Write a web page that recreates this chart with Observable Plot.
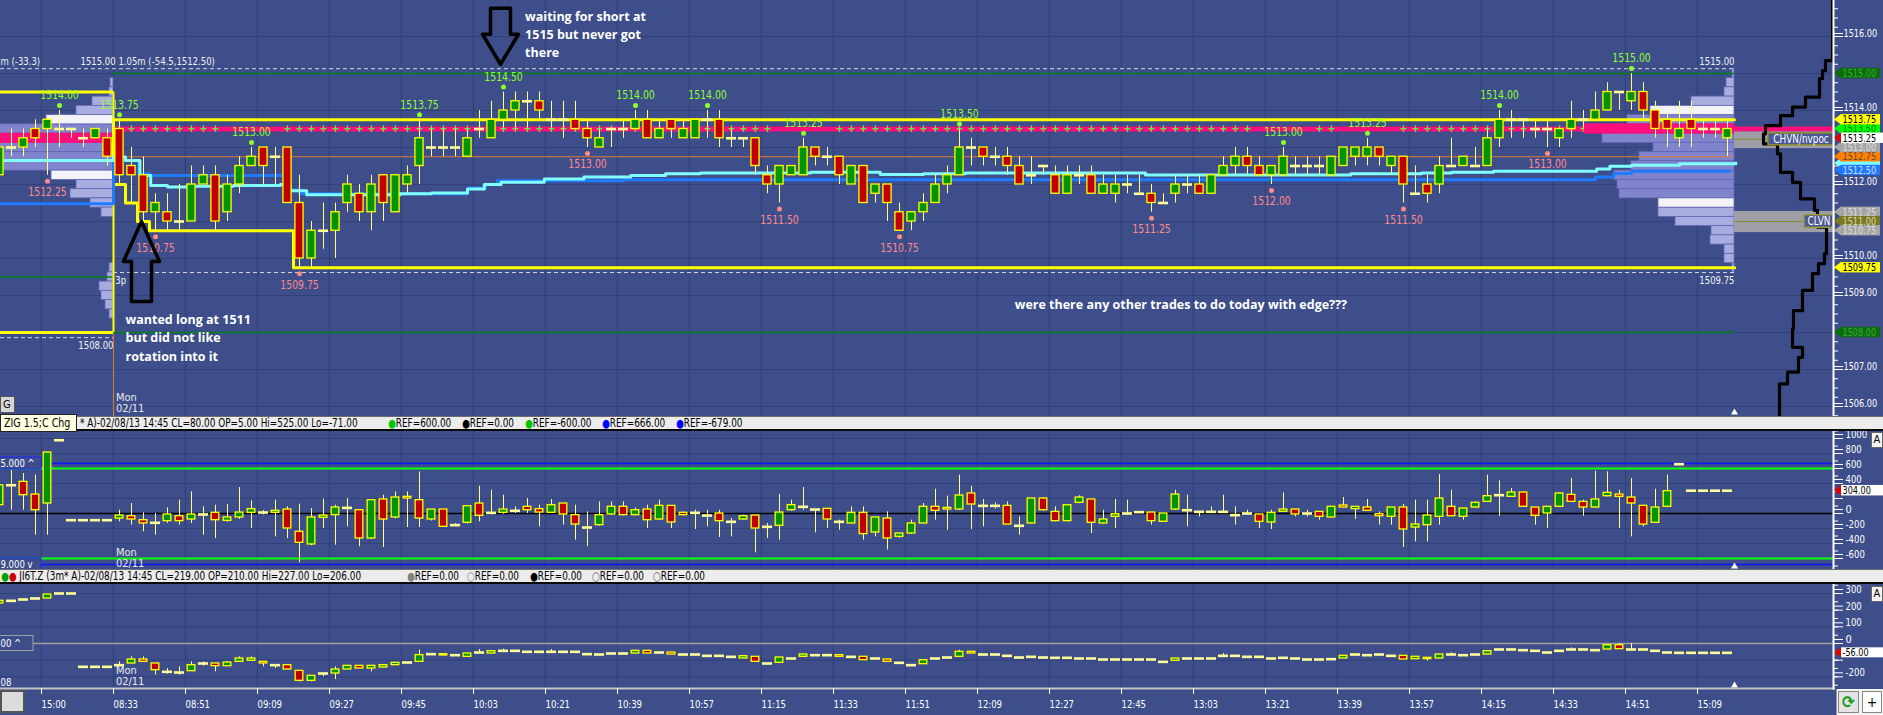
<!DOCTYPE html>
<html>
<head>
<meta charset="utf-8">
<title>ES 3m chart 02/11/13</title>
<script src="https://cdn.jsdelivr.net/npm/d3@7"></script>
<script src="https://cdn.jsdelivr.net/npm/@observablehq/plot@0.6"></script>
<style>
html,body{margin:0;padding:0}
body{width:1883px;height:715px;overflow:hidden;position:relative;background:#3e4e8a;font-family:"Liberation Sans Narrow","DejaVu Sans Condensed","Liberation Sans",sans-serif}
.pane{position:absolute;left:0}
.pane svg{display:block}
.strip{position:absolute;left:0;width:1883px;box-sizing:border-box;background:#ececec;border-top:1px solid #6d6d6d;border-bottom:2px solid #0a0a0a;font-size:11.5px;color:#000;white-space:nowrap}
.strip span{position:absolute;top:0;line-height:12px;transform:scaleX(.86);transform-origin:0 0}
.box{position:absolute;box-sizing:border-box;font-size:12px;white-space:nowrap;overflow:hidden}
</style>
</head>
<body>
<div id="main" class="pane" style="top:0"></div>
<div id="mid" class="pane" style="top:430px"></div>
<div id="bot" class="pane" style="top:584px"></div>

<div class="strip" style="top:416px;height:15px">
 <span style="left:80px">* A)-02/08/13 14:45 CL=80.00 OP=5.00 Hi=525.00 Lo=-71.00</span>
 <span style="left:388px"><b style="color:#00c800">&#9679;</b>REF=600.00</span>
 <span style="left:462px"><b style="color:#000">&#9679;</b>REF=0.00</span>
 <span style="left:525px"><b style="color:#00c800">&#9679;</b>REF=-600.00</span>
 <span style="left:602px"><b style="color:#0000ff">&#9679;</b>REF=666.00</span>
 <span style="left:676px"><b style="color:#0000ff">&#9679;</b>REF=-679.00</span>
</div>
<div class="box" style="left:0;top:414px;width:77px;height:18px;background:#ffffe1;border:1px solid #222;padding-left:3px;line-height:16px"><span style="display:inline-block;transform:scaleX(.88);transform-origin:0 0">ZIG 1.5;C Chg</span></div>

<div class="strip" style="top:569px;height:15px">
 <span style="left:1px"><b style="color:#00a000">&#9679;</b><b style="color:#d00000">&#9679;</b> JI6T.Z (3m* A)-02/08/13 14:45 CL=219.00 OP=210.00 Hi=227.00 Lo=206.00</span>
 <span style="left:407px"><b style="color:#808080">&#9679;</b>REF=0.00</span>
 <span style="left:467px"><b style="color:#808080">&#9675;</b>REF=0.00</span>
 <span style="left:530px"><b style="color:#000">&#9679;</b>REF=0.00</span>
 <span style="left:592px"><b style="color:#555">&#9675;</b>REF=0.00</span>
 <span style="left:653px"><b style="color:#555">&#9675;</b>REF=0.00</span>
</div>

<div class="box" style="left:0;top:396px;width:15px;height:17px;background:#d6d6d6;border:1px solid #555;font-size:11px;line-height:15px;padding-left:2px">G</div>
<div class="box" style="left:0;top:690px;width:25px;height:23px;background:#dcdcdc;border:2px solid #555"></div>
<div class="box" style="left:1836px;top:689px;width:47px;height:26px;background:#f4f4f4;border-left:1px solid #999"></div>
<div class="box" style="left:1838px;top:691px;width:21px;height:22px;background:#e4e4e4;border:1px solid #888;color:#1a9a1a;font-size:17px;line-height:20px;text-align:center;font-weight:bold">&#10227;</div>
<div class="box" style="left:1862px;top:691px;width:20px;height:22px;background:#fff;border:1px solid #888;font-size:14px;line-height:20px;text-align:center">+</div>
<div class="box" style="left:1871px;top:432px;width:12px;height:16px;background:#f4f4f4;border:1px solid #666;font-size:11px;line-height:14px;text-align:center">A</div>
<div class="box" style="left:1871px;top:586px;width:12px;height:16px;background:#f4f4f4;border:1px solid #666;font-size:11px;line-height:14px;text-align:center">A</div>

<script>
// ===================== DATA =====================
// time axis (bar index: 0 = 08:30 bar on Mon 02/11, negatives = Fri 02/08)
const tickBars = d3.range(-6.5, 132, 6);
const tickLabels = ["15:00","08:33","08:51","09:09","09:27","09:45","10:03","10:21","10:39","10:57","11:15","11:33","11:51","12:09","12:27","12:45","13:03","13:21","13:39","13:57","14:15","14:33","14:51","15:09"];

// value-axis labels (labels hidden behind a price tag are left out, as in the original)
const priceAxisLabels = [1506, 1507, 1509, 1510, 1512, 1514, 1516];
const midAxisLabels = [-600, -400, -200, 0, 400, 600, 800, 1000];
const botAxisLabels = [-200, 0, 100, 200, 300];

// ---- ES price candles, previous session tail (bars -10..-1)
const prevOpen  = [1512.25,1513.0,1513.0,1513.5,1513.5,1513.5,1513.5,1513.25,1513.25,1513.25];
const prevHigh  = [1513.0,1513.5,1513.5,1513.75,1513.75,1514.0,1513.5,1513.5,1513.5,1513.5];
const prevLow   = [1512.25,1512.75,1512.75,1513.0,1512.25,1513.0,1513.25,1513.0,1513.25,1512.5];
const prevClose = [1513.0,1513.0,1513.25,1513.25,1513.75,1513.5,1513.5,1513.25,1513.5,1512.75];

// ---- ES price candles, Mon 02/11 session (bars 0..134)
const sessionOpen = [
1513.5,1512.5,1512.25,1511.25,1511.25,1511.0,1511.0,1512.0,1512.25,1511.25,
1512.0,1512.5,1513.0,1512.75,1513.0,1511.5,1510.0,1510.75,1510.75,1511.5,
1511.75,1511.25,1512.25,1511.25,1512.0,1512.5,1513.0,1513.0,1513.0,1512.75,
1513.5,1513.25,1513.75,1514.0,1514.25,1514.25,1513.75,1513.75,1513.75,1513.5,
1513.0,1513.5,1513.5,1513.5,1513.75,1513.25,1513.75,1513.25,1513.25,1513.75,
1513.75,1513.25,1513.25,1513.25,1512.25,1512.0,1512.25,1512.25,1513.0,1512.75,
1512.75,1512.0,1512.5,1511.75,1512.0,1511.25,1511.0,1511.25,1511.5,1512.0,
1512.25,1513.0,1513.0,1512.75,1512.75,1512.5,1512.25,1512.5,1512.25,1511.75,
1512.25,1512.25,1511.75,1511.75,1512.0,1511.75,1511.75,1511.5,1511.75,1512.0,
1512.0,1511.75,1512.25,1512.5,1512.75,1512.5,1512.25,1512.25,1512.5,1512.5,
1512.5,1512.25,1512.5,1512.75,1512.75,1513.0,1512.5,1512.75,1511.75,1512.0,
1512.0,1512.5,1512.5,1512.5,1512.5,1513.25,1513.75,1513.75,1513.5,1513.5,
1513.25,1513.5,1513.75,1513.75,1514.0,1514.5,1514.25,1514.5,1514.0,1513.75,
1513.25,1513.75,1513.5,1513.5,1513.25];
const sessionHigh = [
1513.75,1513.0,1512.75,1511.75,1511.75,1512.0,1512.5,1512.5,1512.5,1512.25,
1512.75,1513.0,1513.0,1513.0,1513.0,1512.25,1511.0,1511.5,1511.5,1512.25,
1512.0,1512.25,1512.25,1512.25,1512.5,1513.75,1513.5,1513.5,1513.5,1513.5,
1514.0,1514.25,1514.5,1514.5,1514.5,1514.5,1514.25,1514.25,1514.25,1513.75,
1513.5,1513.5,1513.75,1514.0,1514.0,1513.75,1513.75,1513.75,1513.75,1514.0,
1514.0,1513.5,1513.25,1513.25,1512.5,1512.5,1512.5,1513.25,1513.0,1513.0,
1512.75,1512.5,1512.5,1512.0,1512.0,1511.5,1511.25,1511.75,1512.25,1512.5,
1513.5,1513.25,1513.0,1513.0,1513.0,1512.75,1512.75,1512.5,1512.5,1512.5,
1512.5,1512.5,1512.25,1512.25,1512.25,1512.25,1512.0,1511.75,1512.25,1512.25,
1512.25,1512.25,1512.75,1513.0,1513.0,1512.75,1512.5,1513.0,1512.75,1512.75,
1512.75,1512.75,1513.0,1513.0,1513.25,1513.0,1512.75,1512.75,1512.5,1512.25,
1512.75,1513.25,1512.75,1513.0,1513.5,1514.0,1514.0,1513.75,1513.75,1513.75,
1513.5,1514.25,1514.0,1514.5,1514.75,1514.5,1515.0,1514.75,1514.25,1514.0,
1514.25,1514.25,1513.75,1513.75,1513.75];
const sessionLow = [
1512.0,1511.5,1511.0,1510.75,1510.75,1510.75,1511.0,1512.0,1510.75,1511.0,
1511.75,1512.5,1512.0,1512.0,1511.5,1509.75,1509.75,1510.25,1510.0,1511.25,
1511.0,1510.75,1511.0,1511.25,1511.75,1512.0,1512.75,1512.75,1512.75,1512.75,
1513.25,1513.25,1513.5,1513.5,1513.5,1513.75,1513.5,1513.25,1513.5,1513.0,
1513.0,1513.0,1513.25,1513.5,1513.25,1513.25,1513.25,1513.25,1513.25,1513.25,
1513.0,1513.0,1513.0,1512.25,1511.75,1511.5,1512.25,1512.25,1512.5,1512.5,
1512.0,1512.0,1511.5,1511.5,1511.0,1510.75,1510.75,1511.0,1511.5,1511.75,
1512.25,1512.5,1512.5,1512.5,1512.25,1512.0,1512.0,1512.25,1511.75,1511.75,
1512.0,1511.75,1511.75,1511.5,1511.75,1511.75,1511.25,1511.5,1511.5,1511.75,
1511.75,1511.75,1512.25,1512.25,1512.25,1512.25,1512.0,1512.25,1512.25,1512.25,
1512.25,1512.25,1512.5,1512.5,1512.5,1512.5,1512.25,1511.5,1511.75,1511.5,
1511.75,1512.5,1512.5,1512.5,1512.5,1513.0,1513.25,1513.25,1513.25,1513.0,
1513.0,1513.25,1513.5,1513.75,1514.0,1514.0,1514.0,1513.75,1513.25,1513.0,
1513.0,1513.0,1513.25,1513.25,1512.75];
const sessionClose = [
1512.25,1512.25,1511.25,1511.5,1511.0,1511.0,1512.0,1512.25,1511.0,1512.0,
1512.5,1512.75,1512.5,1512.75,1511.5,1510.0,1510.75,1510.75,1511.25,1512.0,
1511.25,1512.0,1511.5,1512.25,1512.25,1513.25,1513.0,1513.0,1513.0,1513.25,
1513.5,1513.75,1514.0,1514.25,1514.25,1514.0,1513.75,1513.75,1513.5,1513.25,
1513.25,1513.5,1513.5,1513.75,1513.25,1513.5,1513.5,1513.5,1513.75,1513.75,
1513.25,1513.25,1513.25,1512.5,1512.0,1512.5,1512.5,1513.0,1512.75,1512.75,
1512.25,1512.5,1511.5,1512.0,1511.5,1510.75,1511.25,1511.5,1512.0,1512.25,
1513.0,1513.0,1512.75,1512.75,1512.5,1512.0,1512.25,1512.5,1511.75,1512.25,
1512.25,1511.75,1512.0,1512.0,1512.0,1511.75,1511.5,1511.5,1512.0,1512.0,
1511.75,1512.25,1512.5,1512.75,1512.5,1512.25,1512.5,1512.75,1512.5,1512.5,
1512.5,1512.75,1513.0,1513.0,1513.0,1512.75,1512.75,1512.0,1511.75,1511.75,
1512.5,1512.5,1512.75,1512.5,1513.25,1513.75,1513.75,1513.75,1513.5,1513.5,
1513.5,1513.75,1513.75,1514.0,1514.5,1514.5,1514.5,1514.0,1513.5,1513.5,
1513.5,1513.5,1513.5,1513.5,1513.5];

// swing high / low labels
const swingHighBar   = [-5,0,11,25,32,43,49,57,70,97,104,115,126];
const swingHighPrice = [1514.0,1513.75,1513.0,1513.75,1514.5,1514.0,1514.0,1513.25,1513.5,1513.0,1513.25,1514.0,1515.0];
const swingLowBar    = [-6,3,15,39,55,65,86,96,107,119];
const swingLowPrice  = [1512.25,1510.75,1509.75,1513.0,1511.5,1510.75,1511.25,1512.0,1511.5,1513.0];

// key levels
const pocPrice = 1513.5, prevPocPrice = 1513.25;
const ibHigh = 1513.75;
const ibLowStepBar   = [-0.5,0.5,1.5,2.5,14.5,134.6];
const ibLowStepPrice = [1512.0,1511.5,1511.0,1510.75,1509.75,1509.75];
const prevIbHigh = 1514.5, prevIbLow = 1508.0;
const orangeLevel = 1512.75;
const greenLevels = [1515.0, 1508.0];
const prevGreenLevel = 1509.5;
const sessionHighDash = 1515.13, sessionLowDash = 1509.62, prevLowDash = 1507.86;

// VWAP-type step lines
const cyanBar   = [-10,-0.5,0.5,1.7,2.6,4,5.6,9.5,13.4,14.2,15.6,23.4,26,29,30.4,31.8,35.4,38.7,42.6,45.5,48.4,57.6,63.4,67,70.5,85.5,102.6,108.5,111,114.5,123.1,124.2,126,130,134.7];
const cyanPrice = [1512.65,1512.74,1512.65,1512.24,1511.97,1511.93,1511.95,1511.97,1512.0,1511.83,1511.72,1511.75,1511.77,1511.88,1512.0,1512.06,1512.15,1512.2,1512.24,1512.29,1512.31,1512.33,1512.27,1512.29,1512.31,1512.26,1512.29,1512.31,1512.33,1512.36,1512.42,1512.49,1512.52,1512.56,1512.58];
const blueBar   = [-10,-0.5,1.6,2.5,14.0,15.0,29,30.5,31.5,42,123,124.5,126,134.2];
const bluePrice = [1511.48,1512.65,1512.29,1512.24,1511.85,1511.75,1511.9,1512.0,1512.1,1512.13,1512.2,1512.3,1512.36,1512.36];

// volume profiles
const profPrices = [1515.0,1514.75,1514.5,1514.25,1514.0,1513.75,1513.5,1513.25,1513.0,1512.75,1512.5,1512.25,1512.0,1511.75,1511.5,1511.25,1511.0,1510.75,1510.5,1510.25,1510.0,1509.75];
const profVolume = [2,8,10,43,84,107,150,132,81,95,103,120,117,115,76,76,59,23,24,10,10,2];
const profVAH = 1514.0, profVAL = 1511.5;
const prevProfPrices = [1514.75,1514.5,1514.25,1514.0,1513.75,1513.5,1513.25,1513.0,1512.75,1512.5,1512.25,1512.0,1511.75,1511.5,1511.25,1509.75,1509.5,1509.25,1509.0,1508.75,1508.5];
const prevProfVolume = [3,4,21,37,67,130,130,130,130,130,62,37,43,23,12,4,6,14,12,8,4];
const prevVAH = 1513.75, prevVAL = 1512.25;

// composite profile (black step line at right), segment tops and depth
const compTop   = [1516.97,1515.35,1515.08,1514.86,1514.36,1514.09,1513.86,1513.59,1513.37,1513.1,1512.83,1512.33,1512.06,1511.61,1511.3,1510.85,1510.13,1509.86,1509.59,1509.14,1508.59,1508.1,1507.6,1507.33,1506.93,1506.61,1505.73];
const compDepth = [3,10,13,16,30,43,55,70,72,58,55,43,35,21,18,9,11,17,23,33,42,43,33,37,48,56];

// high/low volume nodes
const chvnBand = [1512.97, 1513.42], chvnMid = 1513.22;
const clvnBand = [1510.7, 1511.27], clvnMid = 1511.0;

// right-axis price tags
const tagPrice = [1513.5,1515.0,1508.0,1513.75,1512.57,1512.75,1513.0,1512.38,1513.25,1511.25,1511.0,1510.75,1509.75];
const tagText  = ["1513.50","1515.00","1508.00","1513.75","","1512.75","1513.00","1512.50","1513.25","1511.25","1511.00","1510.75","1509.75"];

// ---- ZIG / C Chg oscillator candles
const midPrevOpen  = [111,377,422,253,133,977,-89,-89,-89,-89];
const midPrevHigh  = [400,577,533,511,813,977,-89,-89,-89,-89];
const midPrevLow   = [100,44,44,-289,-289,977,-89,-89,-89,-89];
const midPrevClose = [377,377,244,44,813,977,-89,-89,-89,-89];
const midOpen = [
-67,-36,-89,-124,-102,-36,-80,-13,9,-98, -53,9,13,9,53,-244,-413,-58,-22,75,
44,-333,187,-53,222,178,-80,53,-155,-124, 133,9,9,36,89,58,9,133,-22,-187,
-155,-13,89,-22,53,-80,102,9,9,-27, 0,-111,-80,-27,-178,-164,44,89,53,62,
-111,-133,9,-253,-67,-311,-267,-133,89,75, 53,267,102,102,102,-164,-133,200,22,-102,
142,187,-133,-44,0,18,13,-111,53,44, 22,22,22,-22,0,-13,-120,22,53,0,
22,-53,107,58,80,-9,-44,80,-187,-155, -44,89,-44,80,155,244,222,280,80,0,
89,249,155,80,231,253,213,102,-124,89, 657,304,304,304,304];
const midHigh = [
44,133,9,0,75,178,289,89,111,120, 346,169,40,178,89,124,67,191,111,200,
44,178,244,289,289,555,53,53,-133,98, 364,311,244,89,200,111,187,133,111,22,
155,155,155,75,111,178,102,22,44,44, 44,-67,-22,-27,-133,253,178,346,53,62,
-89,89,89,-53,22,-267,-89,133,324,231, 511,364,187,140,155,-44,200,213,89,111,
236,187,44,187,178,22,13,0,311,244, 22,89,244,89,44,-13,44,275,53,44,
22,89,213,89,187,22,80,120,178,178, 520,311,67,155,511,436,333,289,80,89,
275,467,178,564,555,311,467,111,324,511, 657,304,304,304,304];
const midLow = [
-111,-155,-244,-289,-130,-155,-133,-289,-333,-120, -80,-200,-20,-311,-333,-657,-430,-200,-422,-178,
-444,-345,-453,-70,-187,-187,-100,-187,-170,-140, -111,-20,-10,0,0,-178,0,-155,-355,-444,
-170,-25,-30,-30,-200,-90,-200,-30,-213,-178, -320,-311,-90,-524,-333,-355,30,44,-258,-200,
-222,-140,-355,-311,-488,-333,-280,-140,-89,-222, 40,-213,-178,60,-147,-289,-140,30,-110,-110,
130,-267,-140,-200,-20,0,-155,-120,40,-178, -44,10,10,-155,-10,-200,-213,15,-44,-44,
-90,-60,75,-80,30,-155,-155,-453,-378,-378, -155,-40,-89,70,150,-36,215,89,-155,-200,
80,150,-36,70,220,-200,-311,-178,-130,80, 657,304,304,304,304];
const midClose = [
-27,-80,-133,-124,-13,-102,-13,-13,-89,-53, 13,58,13,36,-200,-391,-53,-27,80,75,
-333,178,-80,213,200,-67,53,-178,-155,98, -31,9,53,36,44,13,111,-13,-147,-187,
-22,89,-22,44,-89,102,-120,-22,9,-27, -102,-111,-36,-200,-178,13,111,89,53,-80,
-111,9,-275,-53,-333,-267,-133,89,36,53, 240,120,102,102,-147,-164,200,44,-102,111,
213,-124,-80,-9,0,18,-102,0,253,44, 22,22,22,-22,0,-111,9,53,-13,0,
-44,89,80,89,36,-36,80,-213,-147,-27, 200,-36,67,142,231,244,280,89,-31,89,
267,155,80,187,275,222,133,-147,80,298, 657,304,304,304,304];
const midRefs = {green: [600, -600], blue: [666, -679]};
const midLast = 304;

// ---- JI6T.Z candles
const botPrevOpen  = [240,256,264,270,270,300,300,-140,-140,-140];
const botPrevClose = [256,256,264,270,294,300,300,-140,-140,-140];
const botOpen = [
-130,-120,-96,-120,-170,-174,-166,-120,-120,-136, -110,-104,-110,-130,-130,-164,-224,-180,-180,-156,
-134,-150,-144,-130,-114,-110,-64,-64,-70,-80, -54,-60,-44,-44,-50,-50,-50,-50,-50,-64,
-66,-60,-60,-60,-44,-54,-54,-66,-66,-74, -74,-80,-90,-80,-120,-116,-90,-80,-70,-70,
-70,-80,-80,-90,-96,-116,-130,-124,-90,-84, -80,-50,-66,-66,-74,-84,-80,-84,-86,-86,
-90,-90,-96,-96,-96,-96,-96,-110,-104,-90, -90,-90,-74,-74,-80,-80,-90,-86,-90,-96,
-96,-94,-90,-66,-70,-66,-74,-74,-94,-86, -90,-66,-70,-66,-66,-36,-36,-40,-44,-54,
-44,-36,-36,-40,-36,-10,-36,-36,-44,-54, -56,-56,-56,-56,-56];
const botClose = [
-130,-96,-110,-160,-170,-174,-130,-120,-136,-114, -90,-90,-120,-130,-156,-224,-194,-180,-156,-134,
-150,-134,-130,-116,-114,-70,-64,-72,-70,-60, -54,-46,-44,-44,-50,-50,-50,-50,-50,-64,
-66,-60,-60,-44,-60,-54,-66,-66,-66,-74, -74,-80,-76,-110,-120,-84,-90,-66,-70,-70,
-80,-80,-100,-90,-110,-116,-130,-100,-90,-84, -50,-60,-66,-66,-74,-84,-80,-84,-86,-86,
-90,-90,-96,-96,-96,-96,-96,-110,-90,-90, -90,-90,-74,-74,-80,-80,-90,-86,-90,-96,
-96,-94,-74,-66,-70,-66,-74,-96,-80,-94, -66,-66,-70,-66,-46,-36,-36,-40,-44,-54,
-44,-36,-36,-40,-10,-34,-36,-36,-44,-54, -56,-56,-56,-56,-56];
const botWickHigh = {0:-110,1:-80,2:-80,4:-150,5:-140,6:-110,7:-110,9:-110,10:-80,11:-80,18:-140,25:-40,30:-36,32:-34,36:-36,70:-40,92:-60,111:-56,121:-26,125:0,126:0};
const botWickLow  = {3:-190,4:-184,5:-190,7:-136,8:-170,12:-140,13:-150,15:-230,16:-230,17:-200,18:-216,21:-170,109:-106};
const botLast = -56;

// annotations
const shortArrow = {bar: 31.75, price: 1515.25};
const longArrow  = {bar: 1.83, price: 1511.0};
const noteShort = {bar: 33.8, price: 1516.76, text: "waiting for short at\n1515 but never got\nthere"};
const noteLong  = {bar: 0.5, price: 1508.57, text: "wanted long at 1511\nbut did not like\nrotation into it"};
const noteEdge  = {bar: 74.6, price: 1508.73, text: "were there any other trades to do today with edge???"};

// ===================== DRAWING =====================
const FONT = '"Liberation Sans Narrow","DejaVu Sans Condensed","Liberation Sans",sans-serif';
const W = 1883;
const uOf = px => (px - 119) / 12;          // pixel column -> bar index (layout helper)
const COL = {grid:"#33417a", green:"#009400", red:"#c00000", edge:"#ffff00", wick:"#ffff88", doji:"#ffff99",
             hi:"#8cff2a", lo:"#ff8a8a", pink:"#ff0f7b", cyan:"#80ffff", blue:"#1e7bff"};
const xOpts = {type:"linear", domain:[uOf(0), uOf(1833)], axis:null};
const tickLabel = new Map(tickBars.map((b,i)=>[b, tickLabels[i]]));
const baseStyle = {background:"transparent", fontFamily:FONT, fontSize:"11px", color:"#fff", overflow:"visible"};

function candles(data, bodyW=0.34) {
  const up = data.filter(d => d.c > d.o), dn = data.filter(d => d.c < d.o), dj = data.filter(d => d.c === d.o);
  return [
    Plot.ruleX(data.filter(d => d.h > d.l), {x:"u", y1:"l", y2:"h", stroke:COL.wick, strokeWidth:1}),
    Plot.rect(up, {x1:d=>d.u-bodyW, x2:d=>d.u+bodyW, y1:"o", y2:"c", fill:COL.green, stroke:COL.edge, strokeWidth:1.3}),
    Plot.rect(dn, {x1:d=>d.u-bodyW, x2:d=>d.u+bodyW, y1:"o", y2:"c", fill:COL.red, stroke:COL.edge, strokeWidth:1.3}),
    Plot.ruleY(dj, {y:"c", x1:d=>d.u-0.42, x2:d=>d.u+0.42, stroke:COL.doji, strokeWidth:2.6})
  ];
}
// price tag on the right axis: pointed left end + box + label
function tag(t, half, bg, fg, wide=false) {
  const tri = [{y:t.y-half, a:uOf(1841)}, {y:t.y, a:uOf(1834)}, {y:t.y+half, a:uOf(1841)}];
  return [
    Plot.areaX(tri, {y:"y", x1:"a", x2:()=>uOf(1841), fill: wide ? "#e00000" : bg}),
    Plot.rect([t], {x1:()=>uOf(1841), x2:()=>uOf(wide?1883:1880), y1:d=>d.y-half, y2:d=>d.y+half, fill:bg}),
    Plot.text([t], {x:()=>uOf(1842), y:"y", text:"label", fill:fg, textAnchor:"start", fontSize:10.5})
  ];
}

// ---------- main price panel ----------
const prevBars = prevOpen.map((o,i)=>({u:-10+i, o, h:prevHigh[i], l:prevLow[i], c:prevClose[i]}));
const sesBars  = sessionOpen.map((o,i)=>({u:i, o, h:sessionHigh[i], l:sessionLow[i], c:sessionClose[i]}));
const yTop = 1516 + 36/37, yBot = 1516 - 380/37;
const rowH = 0.125;
const rightEdge = uOf(1734), leftEdge = uOf(113), profScale = 1/12, axisU = uOf(1835);
const kindOf = (p, poc, vah, val) => p===poc ? "poc" : (p===vah||p===val) ? "white" : (p<vah&&p>val) ? "in" : "out";
const profRows = profPrices.map((p,i)=>({p, v:profVolume[i], x2:rightEdge, kind:kindOf(p, pocPrice, profVAH, profVAL)}));
const prevRows = prevProfPrices.map((p,i)=>({p, v:prevProfVolume[i], x2:leftEdge, kind:kindOf(p, prevPocPrice, prevVAH, prevVAL)}));
const allRows = prevRows.concat(profRows);
const rowFill = {in:"#8084cc", out:"#a9acdf", white:"#f3f3f7", poc:COL.pink};
const profileMarks = Object.keys(rowFill).map(k =>
  Plot.rect(allRows.filter(r=>r.kind===k), {x1:d=>d.x2-d.v*profScale, x2:"x2", y1:d=>d.p-rowH, y2:d=>d.p+rowH,
    fill:rowFill[k], stroke: k==="poc" ? COL.pink : "#6466b4", strokeWidth:0.8}));

// POC "+" markers (left out where a swing label sits on the POC line)
const labelBars = swingHighBar.filter((u,i)=>swingHighPrice[i] <= 1513.25);
const plusBars = sesBars.filter(d => labelBars.every(b => Math.abs(d.u - b) > 2));

const compPts = compDepth.flatMap((d,i)=>[{p:compTop[i], d}, {p:compTop[i+1], d}]);
const arrowDown = [[0,0],[-18,-30],[-10,-30],[-10,-56],[10,-56],[10,-30],[18,-30],[0,0]];
const arrowUp   = [[0,0],[-18,40],[-10,40],[-10,80],[10,80],[10,40],[18,40],[0,0]];
const arrowPts = (a, shape) => shape.map(([dx,dy])=>({u:a.bar+dx/12, p:a.price-dy/37}));
const ibLow = ibLowStepBar.map((u,i)=>({u, p:ibLowStepPrice[i]}));
const hiLabels = swingHighBar.map((u,i)=>({u, p:swingHighPrice[i]}));
const loLabels = swingLowBar.map((u,i)=>({u, p:swingLowPrice[i]}));
const cyanPts = cyanBar.map((u,i)=>({u, p:cyanPrice[i]}));
const bluePts = blueBar.map((u,i)=>({u, p:bluePrice[i]}));
const tags = tagPrice.map((y,i)=>({y, label:tagText[i]}));
const tagStyle = [
  ["#00ff00","#008000"],["#0b6e0b","#39a839"],["#0b6e0b","#39a839"],["#ffff00","#000"],["#80ffff","#000"],
  ["#ff8000","#5a4a3a"],["#a6a6a6","#dedede"],["#1e7bff","#d4dcff"],["#ffffff","#000"],["#a6a6a6","#dedede"],
  ["#7a7a22","#d8d8b0"],["#a6a6a6","#dedede"],["#ffff00","#000"]];

const mainPlot = Plot.plot({
  width:W, height:416, marginLeft:0, marginRight:50, marginTop:0, marginBottom:0,
  x:xOpts, y:{domain:[yBot, yTop], axis:null}, style:baseStyle,
  marks:[
    Plot.ruleY(d3.range(1506, 1517), {stroke:COL.grid, strokeWidth:1.2}),
    Plot.ruleX(tickBars, {stroke:COL.grid, strokeWidth:1.2}),
    Plot.ruleX([-0.5], {y1:()=>yBot, y2:()=>orangeLevel, stroke:"#d07838", strokeWidth:1.2}),
    Plot.ruleY([pocPrice], {x1:()=>-0.5, x2:()=>axisU, stroke:COL.pink, strokeWidth:5}),
    Plot.text(plusBars, {x:"u", y:()=>pocPrice, text:()=>"+", fill:"#3cff3c", fontSize:10, fontWeight:"bold"}),
    ...profileMarks,
    Plot.ruleY([orangeLevel], {x1:()=>-0.5, x2:()=>rightEdge, stroke:"#e07a30", strokeWidth:1.2}),
    Plot.ruleY(greenLevels, {x1:()=>-0.5, x2:()=>rightEdge, stroke:"#00801a", strokeWidth:1.6}),
    Plot.ruleY([prevGreenLevel], {x1:()=>uOf(0), x2:()=>-0.5, stroke:"#00801a", strokeWidth:1.6}),
    Plot.ruleY([sessionHighDash], {x1:()=>uOf(0), x2:()=>rightEdge, stroke:"#d8d8e8", strokeWidth:1, strokeDasharray:"4,3"}),
    Plot.ruleY([sessionLowDash], {x1:()=>-0.5, x2:()=>rightEdge, stroke:"#d8d8e8", strokeWidth:1, strokeDasharray:"4,3"}),
    Plot.ruleY([prevLowDash], {x1:()=>uOf(0), x2:()=>-0.5, stroke:"#d8d8e8", strokeWidth:1, strokeDasharray:"4,3"}),
    // previous-day initial balance box
    Plot.ruleY([prevIbHigh, prevIbLow], {x1:()=>uOf(0), x2:()=>-0.5, stroke:"#ffff00", strokeWidth:3}),
    Plot.ruleX([-0.5], {y1:()=>prevIbLow, y2:()=>prevIbHigh, stroke:"#ffff00", strokeWidth:2}),
    // current initial balance
    Plot.line([{u:-0.5,p:ibLowStepPrice[0]},{u:-0.5,p:ibHigh},{u:rightEdge,p:ibHigh}], {x:"u", y:"p", stroke:"#ffff00", strokeWidth:3}),
    Plot.line(ibLow, {x:"u", y:"p", curve:"step-after", stroke:"#ffff00", strokeWidth:3}),
    // VWAP-type lines
    Plot.line(bluePts, {x:"u", y:"p", curve:"step-after", stroke:COL.blue, strokeWidth:3}),
    Plot.line(cyanPts, {x:"u", y:"p", curve:"step-after", stroke:COL.cyan, strokeWidth:3}),
    // candles
    ...candles(prevBars), ...candles(sesBars),
    // swing labels
    Plot.dot(hiLabels, {x:"u", y:"p", dy:-5, r:2.5, fill:COL.hi}),
    Plot.text(hiLabels, {x:"u", y:"p", dy:-15, text:d=>d.p.toFixed(2), fill:COL.hi, fontSize:12}),
    Plot.dot(loLabels, {x:"u", y:"p", dy:6, r:2.5, fill:COL.lo}),
    Plot.text(loLabels, {x:"u", y:"p", dy:17, text:d=>d.p.toFixed(2), fill:COL.lo, fontSize:12}),
    // volume nodes
    Plot.rect([chvnBand, clvnBand], {x1:()=>rightEdge, x2:()=>axisU, y1:d=>d[0], y2:d=>d[1], fill:"#a9a9a9", fillOpacity:0.9}),
    Plot.ruleY([chvnMid, clvnMid], {x1:()=>rightEdge, x2:()=>axisU, stroke:"#8c8c2c", strokeWidth:1}),
    Plot.line(compPts, {x:d=>axisU - d.d/12, y:"p", stroke:"#000", strokeWidth:3.2}),
    Plot.rect([chvnMid], {x1:()=>uOf(1768), x2:()=>uOf(1833), y1:d=>d-0.16, y2:d=>d+0.16, fill:"#4a5894", stroke:"#8c8c2c", strokeWidth:1.5}),
    Plot.text([chvnMid], {x:()=>uOf(1800.5), y:d=>d, text:()=>"CHVN/nvpoc", fill:"#fff", fontSize:11.5}),
    Plot.rect([clvnMid], {x1:()=>uOf(1804), x2:()=>uOf(1833), y1:d=>d-0.17, y2:d=>d+0.17, fill:"#4a5894", stroke:"#9a9a3a", strokeWidth:1.5}),
    Plot.text([clvnMid], {x:()=>uOf(1818.5), y:d=>d, text:()=>"CLVN", fill:"#fff", fontSize:11.5}),
    // right axis
    Plot.frame({anchor:"right", stroke:"#fff", strokeWidth:2}),
    Plot.axisY({anchor:"right", ticks:d3.range(1505.75, 1517, 0.25), tickFormat:()=>"", tickSize:4, color:"#fff"}),
    Plot.axisY({anchor:"right", ticks:d3.range(1506, 1517), tickFormat:()=>"", tickSize:9, color:"#fff"}),
    Plot.axisY({anchor:"right", ticks:priceAxisLabels, tickFormat:d=>d.toFixed(2), tickSize:9, tickPadding:1, color:"#fff", fontSize:10.5, dy:-3}),
    ...tags.flatMap((t,i)=>tag(t, 0.14, tagStyle[i][0], tagStyle[i][1], t.label==="1513.25")),
    // small texts
    Plot.text([sessionHighDash], {x:()=>uOf(0), y:d=>d, dy:-7, text:()=>"m (-33.3)", textAnchor:"start", fill:"#f0f0f0", fontSize:11}),
    Plot.text([sessionHighDash], {x:()=>uOf(80), y:d=>d, dy:-7, text:()=>"1515.00 1.05m (-54.5,1512.50)", textAnchor:"start", fill:"#f0f0f0", fontSize:11}),
    Plot.text([sessionHighDash], {x:()=>rightEdge, y:d=>d, dy:-7, text:()=>"1515.00", textAnchor:"end", fill:"#f0f0f0", fontSize:11}),
    Plot.text([sessionLowDash], {x:()=>rightEdge, y:d=>d, dy:8, text:()=>"1509.75", textAnchor:"end", fill:"#f0f0f0", fontSize:11}),
    Plot.text([prevLowDash], {x:()=>-0.5, y:d=>d, dy:8, text:()=>"1508.00", textAnchor:"end", fill:"#f0f0f0", fontSize:11}),
    Plot.text([sessionLowDash], {x:()=>-0.35, y:d=>d, dy:8, text:()=>"3p", textAnchor:"start", fill:"#f0f0f0", fontSize:11}),
    Plot.text([yBot], {x:()=>-0.3, y:d=>d, dy:-5, text:()=>"Mon\n02/11", lineAnchor:"bottom", lineHeight:1.0, textAnchor:"start", fill:"#e8e8e8", fontSize:11}),
    Plot.dot([yBot], {x:()=>rightEdge, y:d=>d, dy:-4, symbol:"triangle", r:2.6, fill:"#fff"}),
    // annotations
    Plot.line(arrowPts(shortArrow, arrowDown), {x:"u", y:"p", stroke:"#000", strokeWidth:3.5}),
    Plot.line(arrowPts(longArrow, arrowUp), {x:"u", y:"p", stroke:"#000", strokeWidth:3.5}),
    Plot.text([noteShort, noteLong], {x:"bar", y:"price", text:"text", lineAnchor:"top", lineHeight:1.45, textAnchor:"start", fill:"#fff", fontSize:12.5, fontWeight:"bold", fontFamily:"Open Sans"}),
    Plot.text([noteEdge], {x:"bar", y:"price", text:"text", textAnchor:"start", fill:"#fff", fontSize:12.5, fontWeight:"bold", fontFamily:"Open Sans"})
  ]
});
document.getElementById("main").append(mainPlot);

// ---------- middle oscillator panel ----------
const midPrevBars = midPrevOpen.map((o,i)=>({u:-10+i, o, h:midPrevHigh[i], l:midPrevLow[i], c:midPrevClose[i]}));
const midBars = midOpen.map((o,i)=>({u:i, o, h:midHigh[i], l:midLow[i], c:midClose[i]}));
const midTop = 83/0.075, midBot = (83-139)/0.075;
const midPlot = Plot.plot({
  width:W, height:139, marginLeft:0, marginRight:50, marginTop:0, marginBottom:0,
  x:xOpts, y:{domain:[midBot, midTop], axis:null}, style:baseStyle,
  marks:[
    Plot.ruleY([-400,-200,200,400,800,1000], {stroke:COL.grid, strokeWidth:1.2}),
    Plot.ruleX(tickBars, {stroke:COL.grid, strokeWidth:1.2}),
    Plot.ruleY(midRefs.blue, {stroke:"#0a14ff", strokeWidth:1.5}),
    Plot.ruleY(midRefs.green, {stroke:"#10ff10", strokeWidth:2}),
    Plot.ruleY([0], {stroke:"#000", strokeWidth:1.5}),
    ...candles(midPrevBars, 0.32), ...candles(midBars, 0.32),
    Plot.rect([midRefs.blue[0], midRefs.blue[1]], {x1:()=>uOf(-2), x2:()=>uOf(41), y1:d=>d-80, y2:d=>d+80, fill:"#3e4e8a", stroke:"#1a2aff", strokeWidth:1}),
    Plot.text([midRefs.blue[0]], {x:()=>uOf(0), y:d=>d, text:()=>"5.000 ^", textAnchor:"start", fill:"#fff", fontSize:11}),
    Plot.text([midRefs.blue[1]], {x:()=>uOf(0), y:d=>d, text:()=>"9.000 v", textAnchor:"start", fill:"#fff", fontSize:11}),
    Plot.text([midBot], {x:()=>-0.3, y:d=>d, dy:-3, text:()=>"Mon\n02/11", lineAnchor:"bottom", lineHeight:1.0, textAnchor:"start", fill:"#e8e8e8", fontSize:11}),
    Plot.dot([midBot], {x:()=>rightEdge, y:d=>d, dy:-3, symbol:"triangle", r:2.6, fill:"#fff"}),
    Plot.frame({anchor:"right", stroke:"#fff", strokeWidth:2}),
    Plot.axisY({anchor:"right", ticks:d3.range(-700, 1101, 100), tickFormat:()=>"", tickSize:4, color:"#fff"}),
    Plot.axisY({anchor:"right", ticks:d3.range(-600, 1001, 200), tickFormat:()=>"", tickSize:9, color:"#fff"}),
    Plot.axisY({anchor:"right", ticks:midAxisLabels, tickFormat:d=>String(d), tickSize:9, tickPadding:3, color:"#fff", fontSize:11, dy:-4}),
    ...tag({y:midLast, label:midLast.toFixed(2)}, 70, "#ffffff", "#000", true)
  ]
});
document.getElementById("mid").append(midPlot);

// ---------- bottom JI6T.Z panel ----------
const botPrevBars = botPrevOpen.map((o,i)=>({u:-10+i, o, c:botPrevClose[i], h:Math.max(o,botPrevClose[i]), l:Math.min(o,botPrevClose[i])}));
const botBars = botOpen.map((o,i)=>({u:i, o, c:botClose[i],
  h: botWickHigh[i] ?? Math.max(o, botClose[i]), l: botWickLow[i] ?? Math.min(o, botClose[i])}));
const botTop = 59*6, botBot = (59-104)*6;
const botPlot = Plot.plot({
  width:W, height:131, marginLeft:0, marginRight:50, marginTop:0, marginBottom:27,
  x:xOpts, y:{domain:[botBot, botTop], axis:null}, style:baseStyle,
  marks:[
    Plot.ruleY([-200,-100,100,200,300], {stroke:COL.grid, strokeWidth:1.2}),
    Plot.ruleX(tickBars, {stroke:COL.grid, strokeWidth:1.2}),
    Plot.ruleY([0], {stroke:"#a0a0a0", strokeWidth:1.5}),
    ...candles(botPrevBars, 0.32), ...candles(botBars, 0.32),
    Plot.rect([0], {x1:()=>uOf(-2), x2:()=>uOf(33), y1:d=>d-45, y2:d=>d+45, fill:"#3e4e8a", stroke:"#a0a0a0", strokeWidth:1}),
    Plot.text([0], {x:()=>uOf(0), y:d=>d, text:()=>"00 ^", textAnchor:"start", fill:"#fff", fontSize:11}),
    Plot.text([botBot], {x:()=>uOf(0), y:d=>d, dy:-6, text:()=>"08", textAnchor:"start", fill:"#fff", fontSize:11}),
    Plot.text([botBot], {x:()=>-0.3, y:d=>d, dy:-4, text:()=>"Mon\n02/11", lineAnchor:"bottom", lineHeight:1.0, textAnchor:"start", fill:"#e8e8e8", fontSize:11}),
    Plot.dot([botBot], {x:()=>rightEdge, y:d=>d, dy:-3, symbol:"triangle", r:2.6, fill:"#fff"}),
    Plot.ruleY([botBot], {x1:()=>uOf(0), x2:()=>axisU, stroke:"#c4c4c4", strokeWidth:2}),
    Plot.frame({anchor:"right", stroke:"#fff", strokeWidth:2}),
    Plot.axisY({anchor:"right", ticks:d3.range(-250, 351, 50), tickFormat:()=>"", tickSize:4, color:"#fff"}),
    Plot.axisY({anchor:"right", ticks:[-200,-100,0,100,200,300], tickFormat:()=>"", tickSize:9, color:"#fff"}),
    Plot.axisY({anchor:"right", ticks:botAxisLabels, tickFormat:d=>String(d), tickSize:9, tickPadding:3, color:"#fff", fontSize:11, dy:-4}),
    ...tag({y:botLast, label:botLast.toFixed(2)}, 30, "#ffffff", "#000", true),
    Plot.axisX({ticks:tickBars, tickFormat:d=>tickLabel.get(d), tickSize:6, tickPadding:6, textAnchor:"start", color:"#fff", fontSize:11})
  ]
});
document.getElementById("bot").append(botPlot);

// condense the chart's small sans-serif labels horizontally (the original uses a narrow UI font)
document.querySelectorAll(".pane svg text").forEach(t => {
  if (t.querySelector("tspan")) return;
  if (t.textContent.trim().length < 2) return;
  if (parseInt(getComputedStyle(t).fontWeight, 10) >= 600) return;
  const w = t.getComputedTextLength();
  if (w > 0) { t.setAttribute("textLength", (w * 0.86).toFixed(1)); t.setAttribute("lengthAdjust", "spacingAndGlyphs"); }
});
</script>
</body>
</html>
